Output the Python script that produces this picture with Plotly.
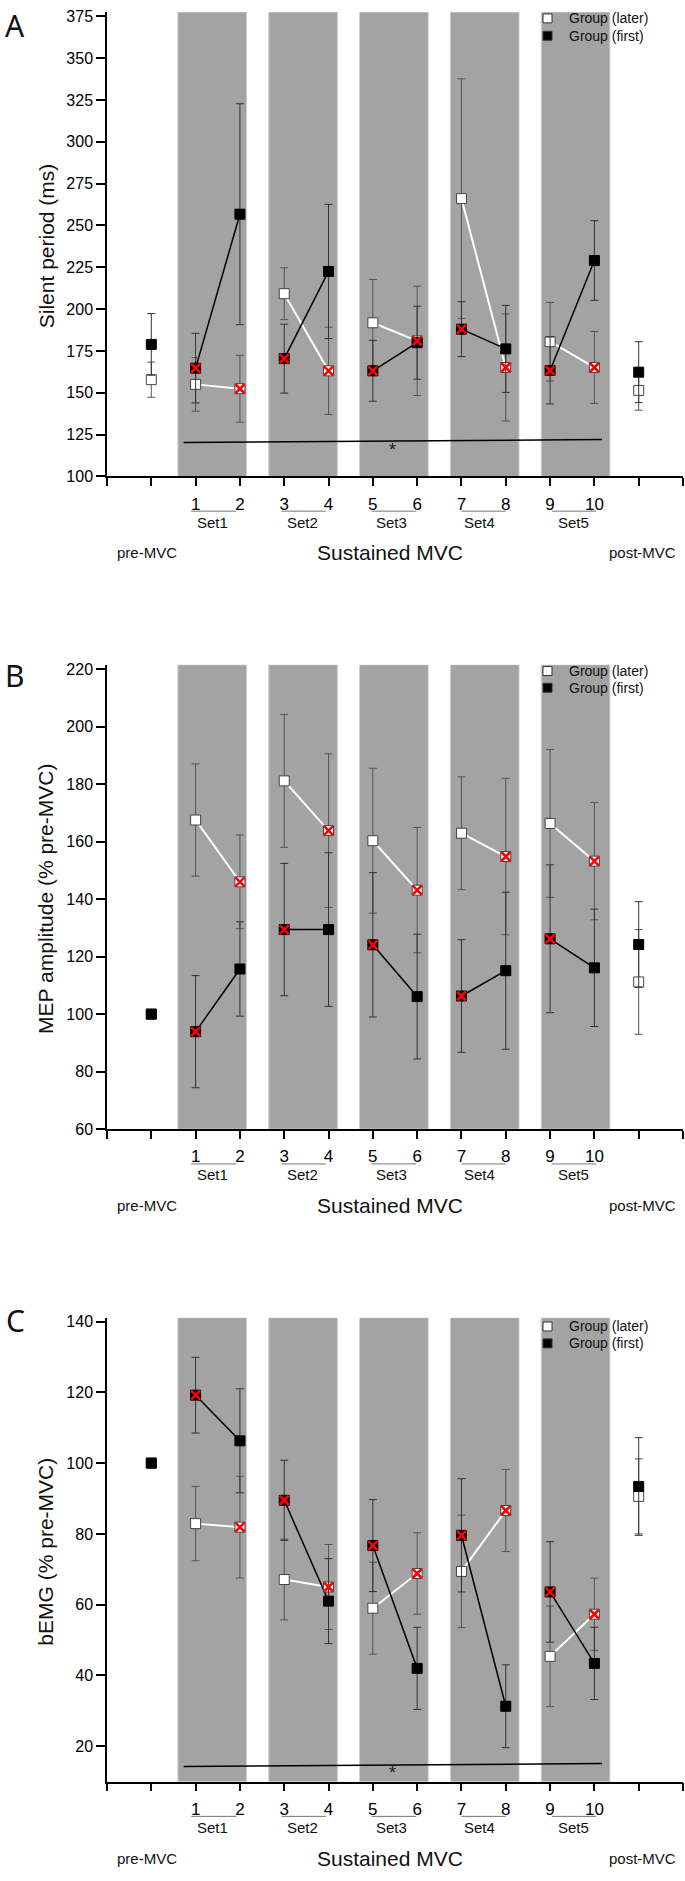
import plotly.graph_objects as go

W, H = 685, 1881

# ---------------- data ----------------
x_points = list(range(1, 13))          # pre, MVC 1..10, post
x_tickvals = list(range(0, 14))
x_ticktext = ["", ""] + [str(i) for i in range(1, 11)] + ["", ""]

set_names = ["Set1", "Set2", "Set3", "Set4", "Set5"]
set_label_x = [2.39, 4.41, 6.41, 8.41, 10.52]
underline_x0 = [1.9, 3.94, 5.97, 8.0, 10.04]
underline_x1 = [2.92, 4.94, 6.98, 9.0, 11.04]
band_x0 = [1.6, 3.65, 5.7, 7.75, 9.8]
band_x1 = [3.15, 5.2, 7.25, 9.3, 11.35]
pair_starts = [2, 4, 6, 8, 10]

# Panel A: Silent period (ms)
a_later = [157.8, 155.0, 152.4, 209.2, 163.1, 191.8, 181.0, 266.0, 165.1, 180.5, 165.1, 151.4]
a_later_err = [10.5, 16.0, 20.0, 15.5, 26.1, 25.9, 32.7, 71.6, 32.0, 23.5, 21.5, 11.8]
a_first = [178.9, 164.7, 256.7, 170.4, 222.5, 163.1, 179.9, 188.0, 176.2, 163.3, 229.0, 162.3]
a_first_err = [18.4, 20.8, 66.0, 20.6, 40.1, 18.2, 21.8, 16.4, 26.0, 20.0, 23.8, 18.2]
a_yticks = [100, 125, 150, 175, 200, 225, 250, 275, 300, 325, 350, 375]
a_sig_x = [1.73, 11.17]
a_sig_y = [120.3, 122.0]

# Panel B: MEP amplitude (% pre-MVC)
b_later = [100, 167.5, 146.0, 181.1, 163.8, 160.3, 143.1, 162.9, 154.8, 166.3, 153.2, 111.2]
b_later_err = [0, 19.5, 16.3, 23.1, 26.7, 25.2, 21.8, 19.6, 27.2, 25.7, 20.4, 18.2]
b_first = [100, 93.9, 115.7, 129.4, 129.4, 124.1, 106.1, 106.3, 115.1, 126.2, 116.1, 124.2]
b_first_err = [0, 19.5, 16.4, 23.0, 26.7, 25.1, 21.7, 19.6, 27.3, 25.7, 20.4, 14.9]
b_yticks = [60, 80, 100, 120, 140, 160, 180, 200, 220]

# Panel C: bEMG (% pre-MVC)
c_later = [100, 82.9, 81.9, 67.1, 65.0, 59.0, 68.8, 69.4, 86.6, 45.4, 57.3, 90.6]
c_later_err = [0, 10.5, 14.4, 11.4, 12.0, 13.0, 11.5, 15.9, 11.6, 14.2, 10.2, 10.6]
c_first = [100, 119.2, 106.3, 89.5, 61.0, 76.7, 42.0, 79.6, 31.3, 63.6, 43.4, 93.4]
c_first_err = [0, 10.7, 14.7, 11.3, 12.0, 13.0, 11.6, 16.0, 11.7, 14.2, 10.2, 13.8]
c_yticks = [20, 40, 60, 80, 100, 120, 140]
c_sig_x = [1.73, 11.17]
c_sig_y = [14.3, 15.1]

# red-cross flags: first group on odd MVCs, later group on even MVCs
first_flag_x = [2, 4, 6, 8, 10]
later_flag_x = [3, 5, 7, 9, 11]

FONT = "Liberation Sans, Arial, sans-serif"

panels = [
    dict(letter="A", title="Silent period (ms)", later=a_later, later_err=a_later_err,
         first=a_first, first_err=a_first_err, yticks=a_yticks, yr=[100, 377.5],
         px_bottom=475.7, px_top=8.1, sig=(a_sig_x, a_sig_y), star=(6.44, 115.8),
         letter_y=21.5, leg_y=(14.5, 32.0)),
    dict(letter="B", title="MEP amplitude (% pre-MVC)", later=b_later, later_err=b_later_err,
         first=b_first, first_err=b_first_err, yticks=b_yticks, yr=[60, 221.5],
         px_bottom=1133.0, px_top=665.3, sig=None, star=None,
         letter_y=676.0, leg_y=(671.7, 688.5)),
    dict(letter="C", title="bEMG (% pre-MVC)", later=c_later, later_err=c_later_err,
         first=c_first, first_err=c_first_err, yticks=c_yticks, yr=[10, 141.1],
         px_bottom=1790.0, px_top=1322.8, sig=(c_sig_x, c_sig_y), star=(6.44, 12.3),
         letter_y=1326.0, leg_y=(1331.7, 1348.7)),
]


def fy(p):
    return 1 - p / H


def fx(p):
    return p / W


fig = go.Figure()
shapes = []
annotations = []
layout_axes = {}

X_DOMAIN = [fx(107), fx(683)]

for i, P in enumerate(panels):
    n = "" if i == 0 else str(i + 1)
    xa, ya = "x" + n, "y" + n

    # pair lines
    def pair_line(vals):
        xs, ys = [], []
        for s in pair_starts:
            xs += [s, s + 1, None]
            ys += [vals[s - 1], vals[s], None]
        return xs, ys

    lx, ly = pair_line(P["later"])
    fig.add_trace(go.Scatter(x=lx, y=ly, mode="lines", xaxis=xa, yaxis=ya,
                             line=dict(color="white", width=2), showlegend=False, hoverinfo="skip"))
    fx_, fy_ = pair_line(P["first"])
    fig.add_trace(go.Scatter(x=fx_, y=fy_, mode="lines", xaxis=xa, yaxis=ya,
                             line=dict(color="black", width=1.5), showlegend=False, hoverinfo="skip"))

    # markers with error bars
    fig.add_trace(go.Scatter(x=x_points, y=P["later"], mode="markers", xaxis=xa, yaxis=ya,
                             error_y=dict(type="data", array=P["later_err"], visible=True,
                                          color="#555555", thickness=1, width=4),
                             marker=dict(symbol="square", size=10, color="white",
                                         line=dict(color="#444444", width=1)),
                             showlegend=False, cliponaxis=False))
    fig.add_trace(go.Scatter(x=x_points, y=P["first"], mode="markers", xaxis=xa, yaxis=ya,
                             error_y=dict(type="data", array=P["first_err"], visible=True,
                                          color="#333333", thickness=1, width=4),
                             marker=dict(symbol="square", size=10, color="black",
                                         line=dict(color="black", width=1)),
                             showlegend=False, cliponaxis=False))
    # red crosses
    fig.add_trace(go.Scatter(x=first_flag_x, y=[P["first"][k - 1] for k in first_flag_x],
                             mode="markers", xaxis=xa, yaxis=ya,
                             marker=dict(symbol="x-thin", size=9, line=dict(color="#ff0000", width=2.6)),
                             showlegend=False, cliponaxis=False))
    fig.add_trace(go.Scatter(x=later_flag_x, y=[P["later"][k - 1] for k in later_flag_x],
                             mode="markers", xaxis=xa, yaxis=ya,
                             marker=dict(symbol="x-thin", size=9, line=dict(color="#ff0000", width=2.6)),
                             showlegend=False, cliponaxis=False))

    # significance line
    if P["sig"] is not None:
        fig.add_trace(go.Scatter(x=P["sig"][0], y=P["sig"][1], mode="lines", xaxis=xa, yaxis=ya,
                                 line=dict(color="black", width=1.5), showlegend=False))
        annotations.append(dict(x=P["star"][0], y=P["star"][1], xref=xa, yref=ya, text="*",
                                showarrow=False, font=dict(family=FONT, size=18, color="#222")))

    # gray bands
    for b0, b1 in zip(band_x0, band_x1):
        shapes.append(dict(type="rect", xref=xa, yref=ya, x0=b0, x1=b1, y0=P["yr"][0], y1=P["yr"][1],
                           fillcolor="#a3a3a3", line=dict(color="#d0d0d0", width=1), layer="below"))

    dom = [fy(P["px_bottom"]), fy(P["px_top"])]
    layout_axes["xaxis" + n] = dict(domain=X_DOMAIN, range=[0, 13], anchor=ya,
                                    tickvals=x_tickvals, ticktext=x_ticktext,
                                    ticks="outside", ticklen=8, tickwidth=1.5, tickcolor="black",
                                    showline=True, linewidth=1.5, linecolor="black",
                                    showgrid=False, zeroline=False, ticklabelstandoff=3,
                                    tickfont=dict(family=FONT, size=17, color="black"))
    layout_axes["yaxis" + n] = dict(domain=dom, range=P["yr"], anchor=xa,
                                    tickvals=P["yticks"], ticks="outside", ticklen=9, tickwidth=1.5,
                                    tickcolor="black", showline=True, linewidth=1.5, linecolor="black",
                                    showgrid=False, zeroline=False,
                                    tickfont=dict(family=FONT, size=16, color="black"))

    axis_px = P["px_bottom"]
    # set underlines & labels
    for nm, lxp, u0, u1 in zip(set_names, set_label_x, underline_x0, underline_x1):
        shapes.append(dict(type="line", xref=xa, yref="paper", x0=u0, x1=u1,
                           y0=fy(axis_px + 35), y1=fy(axis_px + 35),
                           line=dict(color="#777777", width=1)))
        annotations.append(dict(x=lxp, y=fy(axis_px + 46), xref=xa, yref="paper", text=nm,
                                showarrow=False, yanchor="middle",
                                font=dict(family=FONT, size=15, color="#111")))
    annotations.append(dict(x=0.9, y=fy(axis_px + 77), xref=xa, yref="paper", text="pre-MVC",
                            showarrow=False, yanchor="middle", font=dict(family=FONT, size=15, color="#111")))
    annotations.append(dict(x=6.38, y=fy(axis_px + 77), xref=xa, yref="paper", text="Sustained MVC",
                            showarrow=False, yanchor="middle", font=dict(family=FONT, size=21, color="#111")))
    annotations.append(dict(x=12.09, y=fy(axis_px + 77), xref=xa, yref="paper", text="post-MVC",
                            showarrow=False, yanchor="middle", font=dict(family=FONT, size=15, color="#111")))

    # y title
    annotations.append(dict(x=fx(46), y=fy((P["px_bottom"] + P["px_top"]) / 2 + 2), xref="paper",
                            yref="paper", text=P["title"], textangle=-90, showarrow=False,
                            xanchor="center", yanchor="middle",
                            font=dict(family=FONT, size=21, color="#111")))
    # panel letter
    annotations.append(dict(x=fx(15), y=fy(P["letter_y"]), xref="paper", yref="paper",
                            text=P["letter"], showarrow=False, xanchor="center", yanchor="middle",
                            font=dict(family="Noto Sans, sans-serif", size=30, color="#111")))
    # legend
    for (ly_px, fill, txt) in [(P["leg_y"][0], "white", "Group (later)"),
                               (P["leg_y"][1], "black", "Group (first)")]:
        shapes.append(dict(type="rect", xref="paper", yref="paper",
                           x0=fx(543), x1=fx(552), y0=fy(ly_px + 4.5), y1=fy(ly_px - 4.5),
                           fillcolor=fill, line=dict(color="#333333", width=1)))
        annotations.append(dict(x=fx(567), y=fy(ly_px), xref="paper", yref="paper", text=txt,
                                showarrow=False, xanchor="left", yanchor="middle",
                                font=dict(family=FONT, size=14, color="#111")))

fig.update_layout(width=W, height=H, margin=dict(l=0, r=0, t=0, b=0),
                  plot_bgcolor="white", paper_bgcolor="white",
                  shapes=shapes, annotations=annotations, showlegend=False,
                  **layout_axes)

fig.write_html("out.html", config={"displayModeBar": False},
               post_script="document.body.style.margin='0';document.body.style.overflow='hidden';")
